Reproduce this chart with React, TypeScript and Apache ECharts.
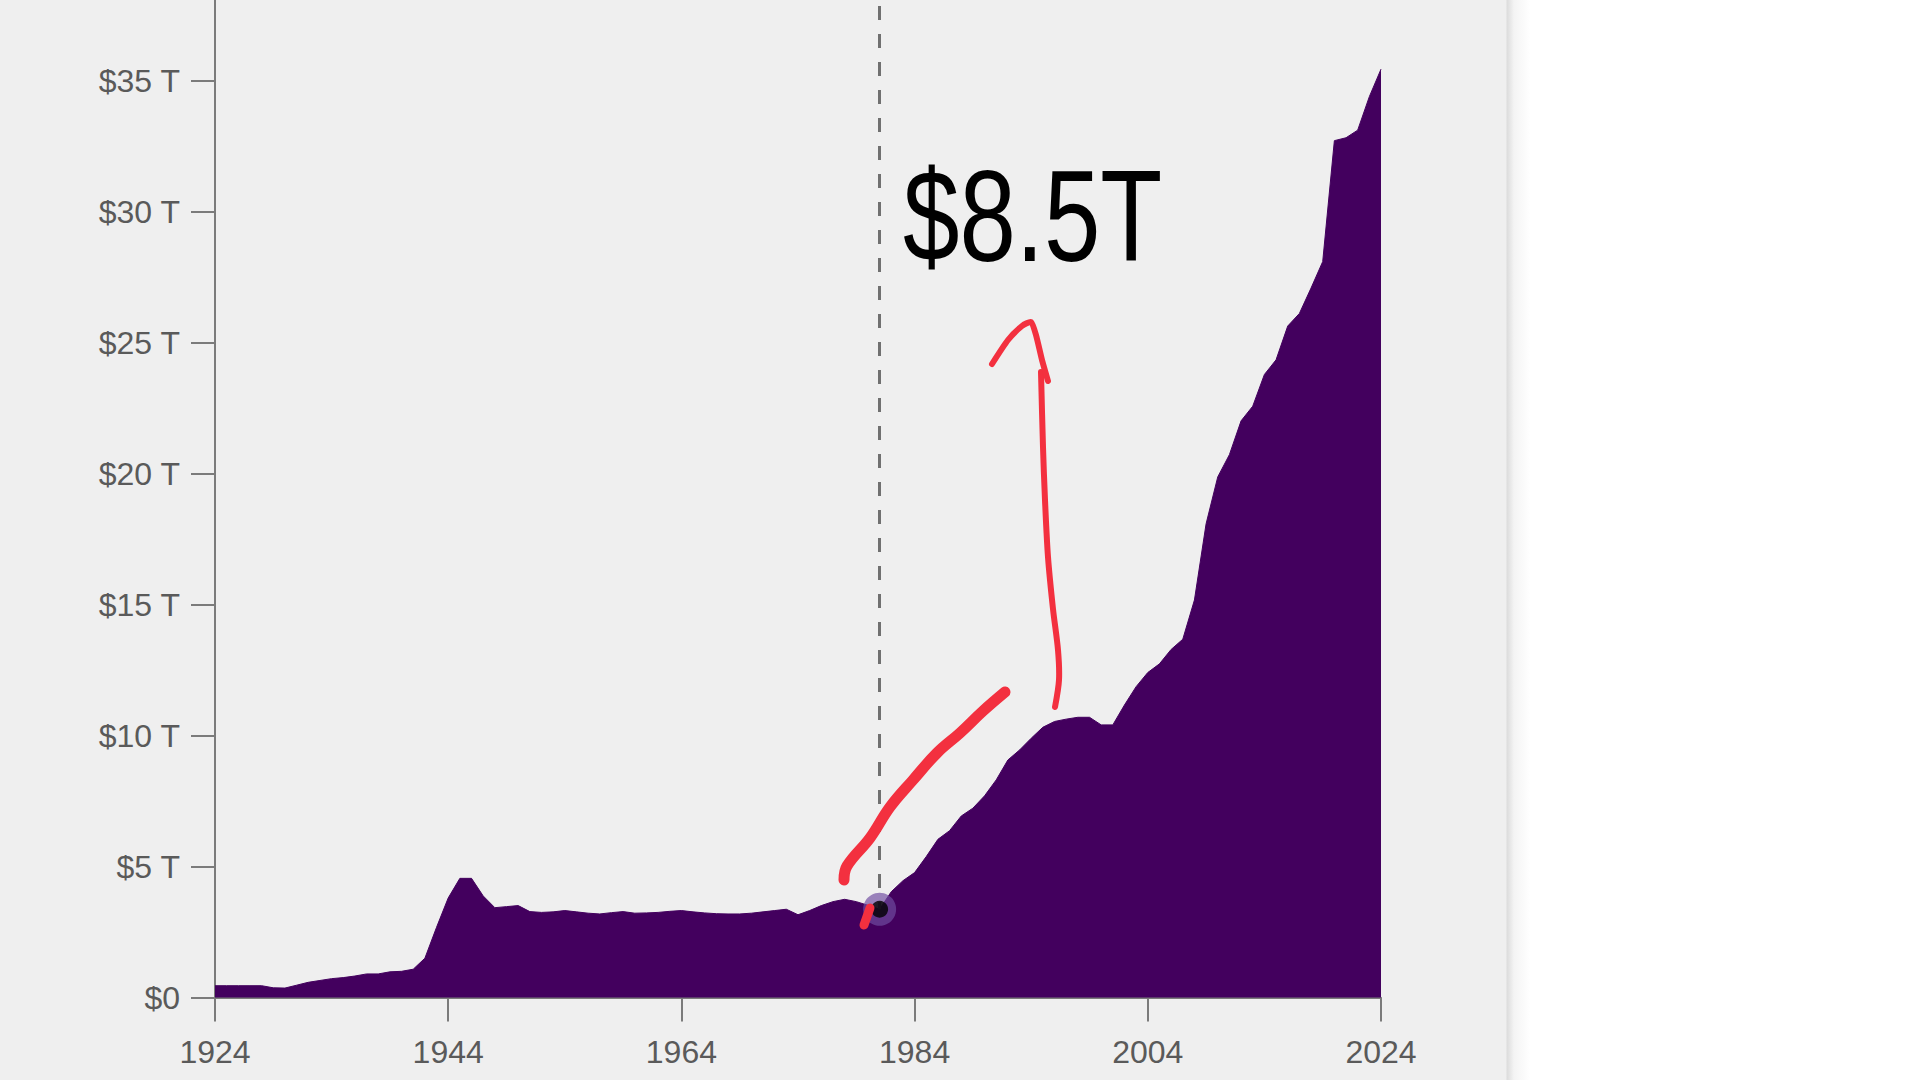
import React, { useEffect, useRef } from "react";
import * as echarts from "echarts";

// Years on the x axis (category axis, one per year)
const years: string[] = Array.from({ length: 101 }, (_, i) => String(1924 + i));

// Federal debt, trillions of dollars
const debt: number[] = [
  0.45, 0.45, 0.45, 0.45, 0.45, 0.37, 0.36, 0.47, 0.58, 0.65, // 1924-1933
  0.72, 0.76, 0.82, 0.9, 0.9, 0.98, 1.0, 1.08, 1.5, 2.68, // 1934-1943
  3.8, 4.55, 4.55, 3.88, 3.43, 3.47, 3.51, 3.28, 3.25, 3.27, // 1944-1953
  3.32, 3.27, 3.22, 3.19, 3.24, 3.28, 3.22, 3.23, 3.25, 3.29, // 1954-1963
  3.32, 3.27, 3.23, 3.2, 3.19, 3.19, 3.22, 3.27, 3.32, 3.37, // 1964-1973
  3.16, 3.32, 3.51, 3.66, 3.75, 3.66, 3.52, 3.37, 4.04, 4.46, // 1974-1983
  4.77, 5.38, 6.04, 6.37, 6.93, 7.23, 7.7, 8.31, 9.07, 9.45, // 1984-1993
  9.9, 10.32, 10.54, 10.63, 10.7, 10.7, 10.41, 10.41, 11.17, 11.87, // 1994-2003
  12.41, 12.74, 13.29, 13.68, 15.18, 18.09, 19.88, 20.73, 22.02, 22.58, // 2004-2013
  23.79, 24.35, 25.64, 26.12, 27.09, 28.1, 32.72, 32.83, 33.12, 34.4, // 2014-2023
  35.45, // 2024
];

// Highlighted year (dashed marker and dot)
const markedYear = "1981";

// Y-axis ticks (trillions)
const yMin = 0;
const yMax = 40;
const yStep = 5;

// Hand-written annotation text
const noteText = "$8.5T";

const FONT = "'Liberation Sans', Arial, Helvetica, sans-serif";
const AXIS_GRAY = "#7b7b7b";
const LABEL_GRAY = "#5a5a5a";
const PURPLE = "#43005e";
const RED = "#f3303f";

// the chart canvas starts above the page so that the axis runs off the top
const OFF = 50;

export default function App() {
  const ref = useRef<HTMLDivElement>(null);

  useEffect(() => {
    if (!ref.current) return;
    const chart = echarts.init(ref.current, undefined, { renderer: "svg" });
    const markedValue = debt[years.indexOf(markedYear)];
    const P = (pts: number[][]) => pts.map(([x, y]) => [x, y + OFF]);

    const option: any = {
      animation: false,
      backgroundColor: "transparent",
      grid: { left: 215, right: 539, top: 0, bottom: 82.5, containLabel: false },
      xAxis: {
        type: "category",
        data: years,
        boundaryGap: false,
        axisLine: { show: true, lineStyle: { color: AXIS_GRAY, width: 2 } },
        axisTick: { show: true, interval: 19, length: 24, lineStyle: { color: AXIS_GRAY, width: 2 } },
        axisLabel: {
          interval: 19,
          margin: 38,
          fontSize: 32,
          color: LABEL_GRAY,
          fontFamily: FONT,
        },
        splitLine: { show: false },
      },
      yAxis: {
        type: "value",
        min: yMin,
        max: yMax,
        interval: yStep,
        axisLine: { show: true, lineStyle: { color: AXIS_GRAY, width: 2 } },
        axisTick: { show: true, length: 24, lineStyle: { color: AXIS_GRAY, width: 2 } },
        axisLabel: {
          margin: 35,
          fontSize: 32,
          color: LABEL_GRAY,
          fontFamily: FONT,
          formatter: (v: number) => (v === 0 ? "$0" : v >= yMax ? "" : `$${v} T`),
        },
        splitLine: { show: false },
      },
      series: [
        {
          type: "line",
          data: debt,
          showSymbol: false,
          symbol: "none",
          silent: true,
          lineStyle: { width: 1, color: PURPLE },
          areaStyle: { color: PURPLE, opacity: 1 },
          z: 2,
          markLine: {
            silent: true,
            symbol: ["none", "none"],
            label: { show: false },
            lineStyle: { color: "#707070", width: 3, type: [14, 14] },
            data: [[{ coord: [markedYear, yMax] }, { coord: [markedYear, markedValue] }]],
          },
        },
        {
          type: "scatter",
          data: [[markedYear, markedValue]],
          symbolSize: 33,
          silent: true,
          itemStyle: { color: "rgba(112, 76, 160, 0.85)" },
          z: 5,
        },
        {
          type: "scatter",
          data: [[markedYear, markedValue]],
          symbolSize: 17,
          silent: true,
          itemStyle: { color: "#000000" },
          z: 6,
        },
      ],
      graphic: [
        // hand-drawn red stroke rising from the dot
        {
          type: "polyline",
          z: 100,
          silent: true,
          shape: {
            points: P([
              [844, 880],
              [847, 866],
              [870, 838],
              [890, 807],
              [913, 780],
              [937, 753],
              [960, 733],
              [983, 711],
              [1005, 692],
            ]),
            smooth: 0.4,
          },
          style: { stroke: RED, lineWidth: 11, lineCap: "round", lineJoin: "round", fill: null },
        },
        {
          type: "polyline",
          z: 100,
          silent: true,
          shape: { points: P([[864, 925], [870, 908]]) },
          style: { stroke: RED, lineWidth: 9, lineCap: "round", fill: null },
        },
        // red arrow shaft
        {
          type: "polyline",
          z: 100,
          silent: true,
          shape: {
            points: P([
              [1055, 707],
              [1059, 680],
              [1058, 650],
              [1053, 609],
              [1048, 557],
              [1045, 500],
              [1043, 447],
              [1041, 372],
            ]),
            smooth: 0.3,
          },
          style: { stroke: RED, lineWidth: 6, lineCap: "round", lineJoin: "round", fill: null },
        },
        // red arrow head
        {
          type: "polyline",
          z: 100,
          silent: true,
          shape: {
            points: P([
              [992, 364],
              [1008, 340],
              [1022, 326],
              [1031, 322],
              [1036, 335],
              [1042, 360],
              [1048, 381],
            ]),
            smooth: 0.2,
          },
          style: { stroke: RED, lineWidth: 6, lineCap: "round", lineJoin: "round", fill: null },
        },
        // hand-written value
        {
          type: "text",
          z: 100,
          silent: true,
          x: 903,
          y: 216 + OFF,
          scaleX: 0.78,
          style: {
            text: noteText,
            font: `130px ${FONT}`,
            fill: "#000000",
            align: "left",
            verticalAlign: "middle",
          },
        },
      ],
    };

    chart.setOption(option);
    return () => chart.dispose();
  }, []);

  return (
    <div
      style={{
        position: "fixed",
        left: 0,
        top: 0,
        width: 1920,
        height: 1080,
        overflow: "hidden",
        background:
          "linear-gradient(to right, #efefef 0px, #efefef 1506px, #dcdcdc 1507px, #f4f4f4 1514px, #ffffff 1530px, #ffffff 1920px)",
      }}
    >
      <div
        ref={ref}
        style={{ position: "absolute", left: 0, top: -OFF, width: 1920, height: 1080 + OFF }}
      />
    </div>
  );
}
